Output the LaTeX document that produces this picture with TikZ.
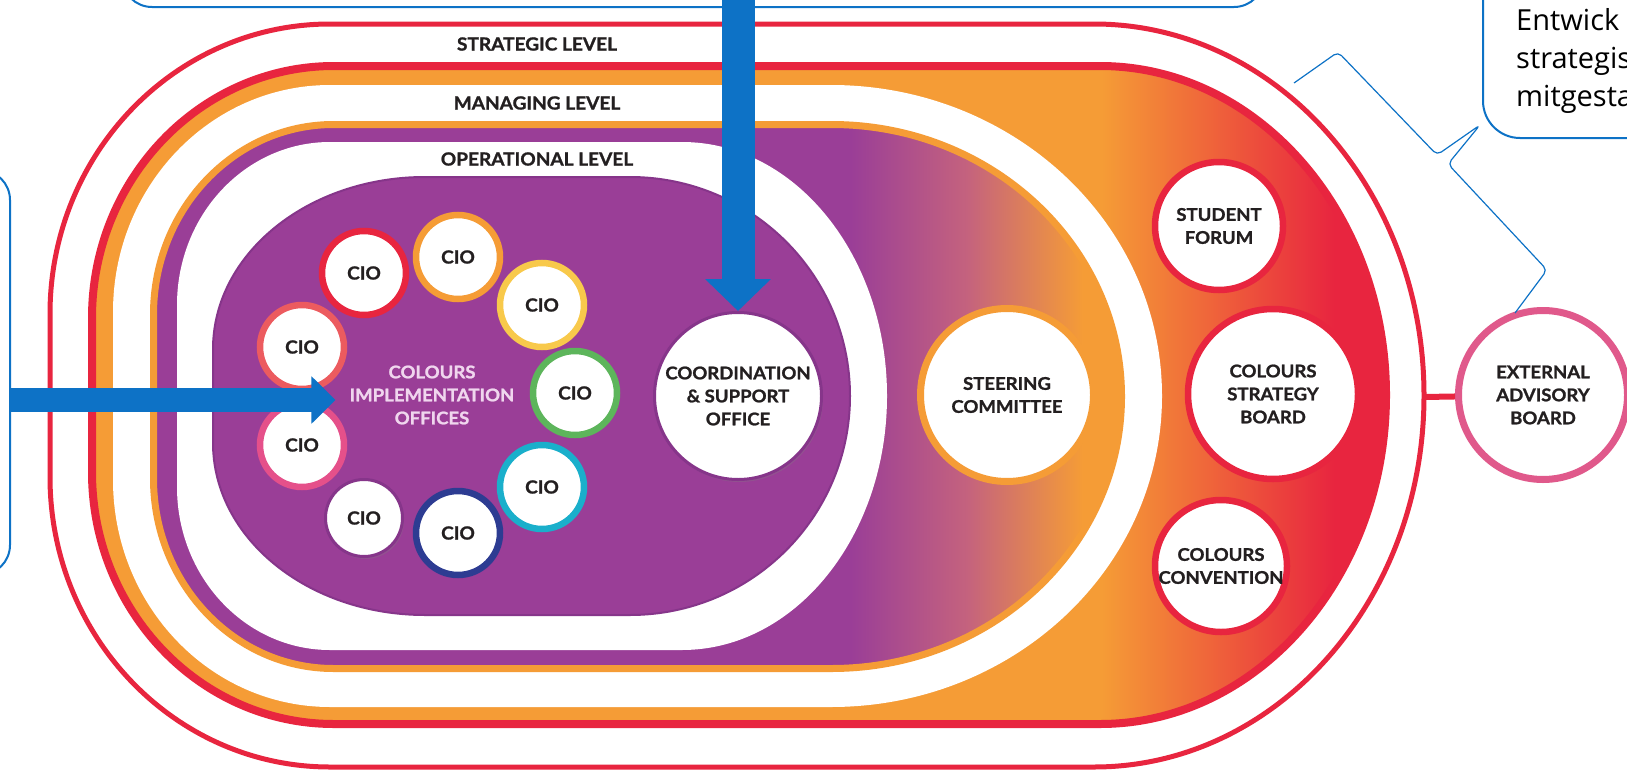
\documentclass[tikz,border=0pt]{standalone}
\usepackage{fontspec}
\setmainfont{Lato}
\newfontfamily\labelfont[FakeStretch=1.06, BoldFeatures={FakeBold=1.2}]{Lato}
\newfontfamily\notefont{Open Sans}
\usetikzlibrary{arrows.meta,shadows}

\definecolor{cred}{HTML}{E8253F}
\definecolor{corange}{HTML}{F59C36}
\definecolor{cpurple}{HTML}{9A3E97}
\definecolor{cdarkpurple}{HTML}{86358A}
\definecolor{cmauve}{HTML}{C4627E}
\definecolor{cblue}{HTML}{0D72C6}
\definecolor{cpink}{HTML}{E0598B}
\definecolor{ctext}{HTML}{231F20}
\definecolor{cciotext}{HTML}{F0D6EE}
\definecolor{cioyellow}{HTML}{F8C94B}
\definecolor{ciocoral}{HTML}{EC5B5F}
\definecolor{ciogreen}{HTML}{5DB55B}
\definecolor{ciopink}{HTML}{E5508A}
\definecolor{cionavy}{HTML}{2D3C92}
\definecolor{ciocyan}{HTML}{1AAFCB}

\pgfdeclarehorizontalshading{mgmtshade}{100bp}{color(0bp)=(corange); color(64bp)=(corange); color(73bp)=(cred); color(100bp)=(cred)}
\pgfdeclarehorizontalshading{opshade}{100bp}{color(0bp)=(cpurple); color(61bp)=(cpurple); color(67bp)=(cmauve); color(73bp)=(corange); color(100bp)=(corange)}

% racetrack: options, left, top, right, bottom, left x/y radius, right x/y radius
\newcommand{\racetrack}[9]{%
  \path[#1] (#2+#6,#3) -- (#4-#8,#3)
    arc[start angle=270, end angle=360, x radius=#8, y radius=#9]
    -- (#4,#5-#9)
    arc[start angle=0, end angle=90, x radius=#8, y radius=#9]
    -- (#2+#6,#5)
    arc[start angle=90, end angle=180, x radius=#6, y radius=#7]
    -- (#2,#3+#7)
    arc[start angle=180, end angle=270, x radius=#6, y radius=#7]
    -- cycle;}

\tikzset{
  tier/.style={font=\labelfont\bfseries\fontsize{18}{22}\selectfont, text=ctext},
  office/.style={circle, fill=white, draw=#1, line width=6.5pt, minimum size=84pt, inner sep=0pt,
    font=\labelfont\bfseries\fontsize{18}{22}\selectfont, text=ctext,
    drop shadow={shadow xshift=1.5pt, shadow yshift=-2.5pt, opacity=0.3}},
  board/.style={circle, fill=white, draw=#1, line width=6.5pt, inner sep=0pt, align=center,
    font=\labelfont\bfseries\fontsize{17.5}{23}\selectfont, text=ctext,
    drop shadow={shadow xshift=1.5pt, shadow yshift=-2.5pt, opacity=0.3}},
  callout/.style={draw=cblue, line width=2pt, fill=white, rounded corners=30pt},
  note/.style={font=\notefont\fontsize{29}{38}\selectfont, align=left, inner sep=0pt, text=black},
  bigarrow/.style={draw=cblue, line width=33pt, -{Triangle[width=64pt,length=32pt]}},
  sidearrow/.style={draw=cblue, line width=24pt, -{Triangle[width=46pt,length=24pt]}},
  link/.style={draw=cred, line width=6pt},
  pointer/.style={draw=cblue, line width=1.2pt, rounded corners=5pt}
}

\begin{document}
\begin{tikzpicture}[x=1pt, y=-1pt]
  \useasboundingbox (0,0) rectangle (1627,771);
  \clip (0,0) rectangle (1627,771);

  % callout boxes, mostly outside the frame
  \node[callout, minimum width=1142pt, minimum height=300pt] (topbox) at (693,-143) {};
  \node[callout, minimum width=400pt, minimum height=405pt] (leftbox) at (-190,372.5) {};
  \node[callout, rounded corners=37pt, minimum width=400pt, minimum height=338pt] (boardbox) at (1683,-31) {};
  \node[note, anchor=north west] (boardnote) at (1516,8) {Entwick\\strategis\\mitgesta};

  % the levels
  \racetrack{draw=cred, fill=white, line width=5pt}{50}{24}{1424}{767}{280}{290}{330}{371.5}
  \racetrack{draw=cred, line width=8pt, shade, shading=mgmtshade}{92}{66}{1386}{724}{242}{252}{286}{329}
  \racetrack{fill=white}{113}{85}{1162}{707}{217}{227}{331}{311}
  \racetrack{draw=corange, line width=7pt, shade, shading=opshade}{153.5}{124.5}{1121.5}{668.5}{180}{190}{290}{272}
  \racetrack{fill=white}{177}{142}{887}{650}{153}{163}{205}{254}
  \racetrack{draw=cdarkpurple, fill=cpurple, line width=2pt}{213}{177}{850}{615}{212}{172}{220}{219}

  \node[tier] (strat) at (537,44) {STRATEGIC LEVEL};
  \node[tier] (mgmt) at (537,103) {MANAGING LEVEL};
  \node[tier] (oper) at (537,159) {OPERATIONAL LEVEL};

  % implementation offices
  \node[office=cred] (cio1) at (364,273) {CIO};
  \node[office=corange] (cio2) at (458,257) {CIO};
  \node[office=cioyellow] (cio3) at (542,305) {CIO};
  \node[office=ciocoral] (cio4) at (302,347) {CIO};
  \node[office=ciogreen] (cio5) at (575,393) {CIO};
  \node[office=ciopink] (cio6) at (302,445) {CIO};
  \node[office=cdarkpurple, line width=3pt, minimum size=77pt] (cio7) at (364,518) {CIO};
  \node[office=cionavy] (cio8) at (458,533) {CIO};
  \node[office=ciocyan] (cio9) at (542,487) {CIO};
  \node[font=\labelfont\bfseries\fontsize{17.5}{23}\selectfont, text=cciotext, align=center, inner xsep=14pt] (cioinfo) at (432,395) {COLOURS\\IMPLEMENTATION\\OFFICES};

  \node[board=cdarkpurple, line width=3pt, minimum size=167pt] (cso) at (738,396) {COORDINATION\\\& SUPPORT\\OFFICE};
  \node[board=corange, line width=7pt, minimum size=173pt] (steer) at (1007,395) {STEERING\\COMMITTEE};
  \node[board=cred, minimum size=128pt] (forum) at (1219,226) {STUDENT\\FORUM};
  \node[board=cred, minimum size=170pt] (csb) at (1273,394) {COLOURS\\STRATEGY\\BOARD};
  \node[board=cred, minimum size=132pt] (conv) at (1221,566) {COLOURS\\CONVENTION};
  \node[board=cpink, line width=7pt, minimum size=169pt] (eab) at (1543,395) {EXTERNAL\\ADVISORY\\BOARD};

  \coordinate (stratedge) at (1424,397);
  \draw[link] (stratedge) -- (eab);

  % arrows from the callouts
  \coordinate (cioentry) at ([yshift=-5pt]cioinfo.west);
  \draw[bigarrow] (topbox.center -| cso.north) -- (cso.north);
  \draw[sidearrow] (leftbox.east |- cioentry) -- (cioentry);
  \draw[pointer] (1294,83) -- (1338,52) -- (1437,155) -- (1480,125) -- (1448,164) -- (1547,270) -- (1515,313);
\end{tikzpicture}
\end{document}
